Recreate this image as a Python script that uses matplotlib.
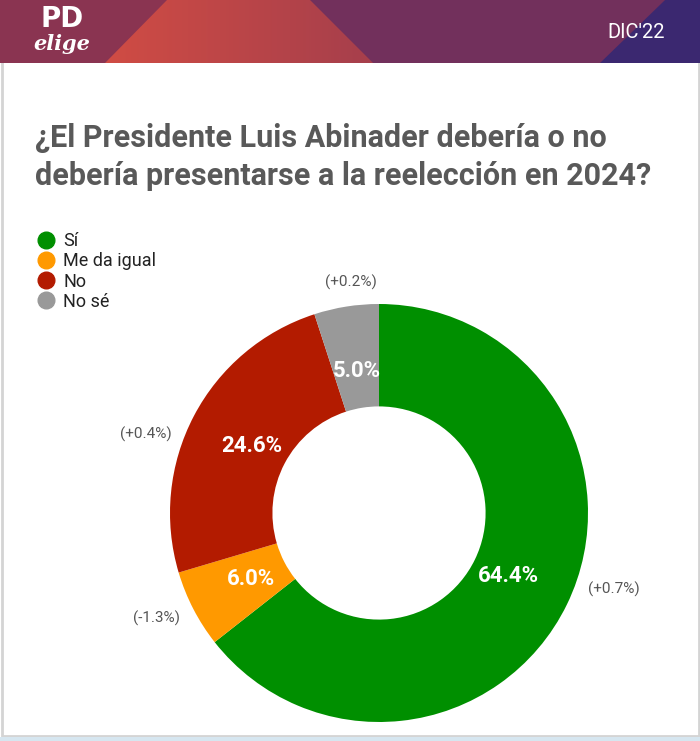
import matplotlib
matplotlib.use("Agg")
import matplotlib.pyplot as plt
import numpy as np
from matplotlib.lines import Line2D
from matplotlib.patches import Polygon, Rectangle

plt.rcParams["font.family"] = ["Roboto", "DejaVu Sans"]

categories = ["Sí", "Me da igual", "No", "No sé"]
values = [64.4, 6.0, 24.6, 5.0]
changes = ["(+0.7%)", "(-1.3%)", "(+0.4%)", "(+0.2%)"]
colors = ["#008f00", "#ff9900", "#b31b00", "#999999"]

title = "¿El Presidente Luis Abinader debería o no\ndebería presentarse a la reelección en 2024?"

W, H = 700, 741
fig = plt.figure(figsize=(W / 100, H / 100), dpi=100)
fig.patch.set_facecolor("white")

# card border
border = fig.add_axes([0, 0, 1, 1])
border.set_xlim(0, W)
border.set_ylim(H, 0)
border.axis("off")
border.add_patch(Rectangle((1.5, 0), W - 3, H - 5, fill=False, edgecolor="#d4d4d4", linewidth=2))
border.add_patch(Rectangle((0, H - 4), W, 4, color="#d6e6f0", linewidth=0))

# header band
head = fig.add_axes([0, 1 - 63 / H, 1, 63 / H])
head.axis("off")
head.add_patch(Rectangle((0, 0), W, 63, color="#7c3357", linewidth=0))
head.add_patch(Polygon([(0, 0), (170, 0), (105, 63), (0, 63)], color="#8a3451", linewidth=0))
red = Polygon([(167, 0), (310, 0), (373, 63), (105, 63)], facecolor="none", linewidth=0)
head.add_patch(red)
grad = np.linspace(0, 1, 256).reshape(1, -1)
img = head.imshow(grad, extent=(105, 373, 63, 0), aspect="auto", zorder=2,
                  cmap=matplotlib.colors.LinearSegmentedColormap.from_list(
                      "hdr", ["#d04c44", "#a63f4c"]))
img.set_clip_path(red)
head.add_patch(Polygon([(310, 0), (665, 0), (600, 63), (373, 63)], color="#72305c", linewidth=0))
head.add_patch(Polygon([(665, 0), (W, 0), (W, 63), (600, 63)], color="#3b2870", linewidth=0))
head.set_xlim(0, W)
head.set_ylim(63, 0)
head.text(62, 19, "PD", color="white", fontsize=20, fontweight="heavy",
          ha="center", va="center", family=["DejaVu Sans"], zorder=5)
head.text(62, 44, "elige", color="white", fontsize=15, fontstyle="italic",
          fontweight="bold", ha="center", va="center", family=["DejaVu Serif"], zorder=5)
head.text(636, 32, "DIC'22", color="white", fontsize=14.5, ha="center", va="center", zorder=5)

fig.text(35 / W, 1 - 157 / H, title, fontsize=22, fontweight="bold", color="#595959",
         ha="left", va="center", linespacing=1.3)

# legend
handles = [Line2D([], [], marker="o", linestyle="none", markersize=12,
                  markerfacecolor=c, markeredgecolor=c) for c in colors]
fig.legend(handles, categories, loc="upper left", bbox_to_anchor=(30 / W, 1 - 225 / H),
           frameon=False, fontsize=13, labelspacing=0.12, handletextpad=0.45,
           handlelength=1.0, borderaxespad=0, labelcolor="#222222")

# donut
ax = fig.add_axes([170 / W, 19 / H, 418 / W, 418 / H])
wedges, _, inner = ax.pie(
    values, colors=colors, startangle=90, counterclock=False,
    autopct="%.1f%%", pctdistance=0.69,
    wedgeprops=dict(width=0.49, linewidth=0),
)
for t in inner:
    t.set_color("white")
    t.set_fontsize(16)
    t.set_fontweight("bold")

# change labels outside the ring, nudged from each wedge's middle angle
label_shift = [8, -2, 9, -2]
label_radius = [1.18, 1.18, 1.18, 1.11]
for w, text, shift, r in zip(wedges, changes, label_shift, label_radius):
    ang = np.deg2rad((w.theta1 + w.theta2) / 2 + shift)
    ax.text(r * np.cos(ang), r * np.sin(ang), text, fontsize=11, color="#555555",
            ha="center", va="center")
ax.set_xlim(-1, 1)
ax.set_ylim(-1, 1)
ax.set_aspect("equal")

fig.savefig("out.png", dpi=100)
